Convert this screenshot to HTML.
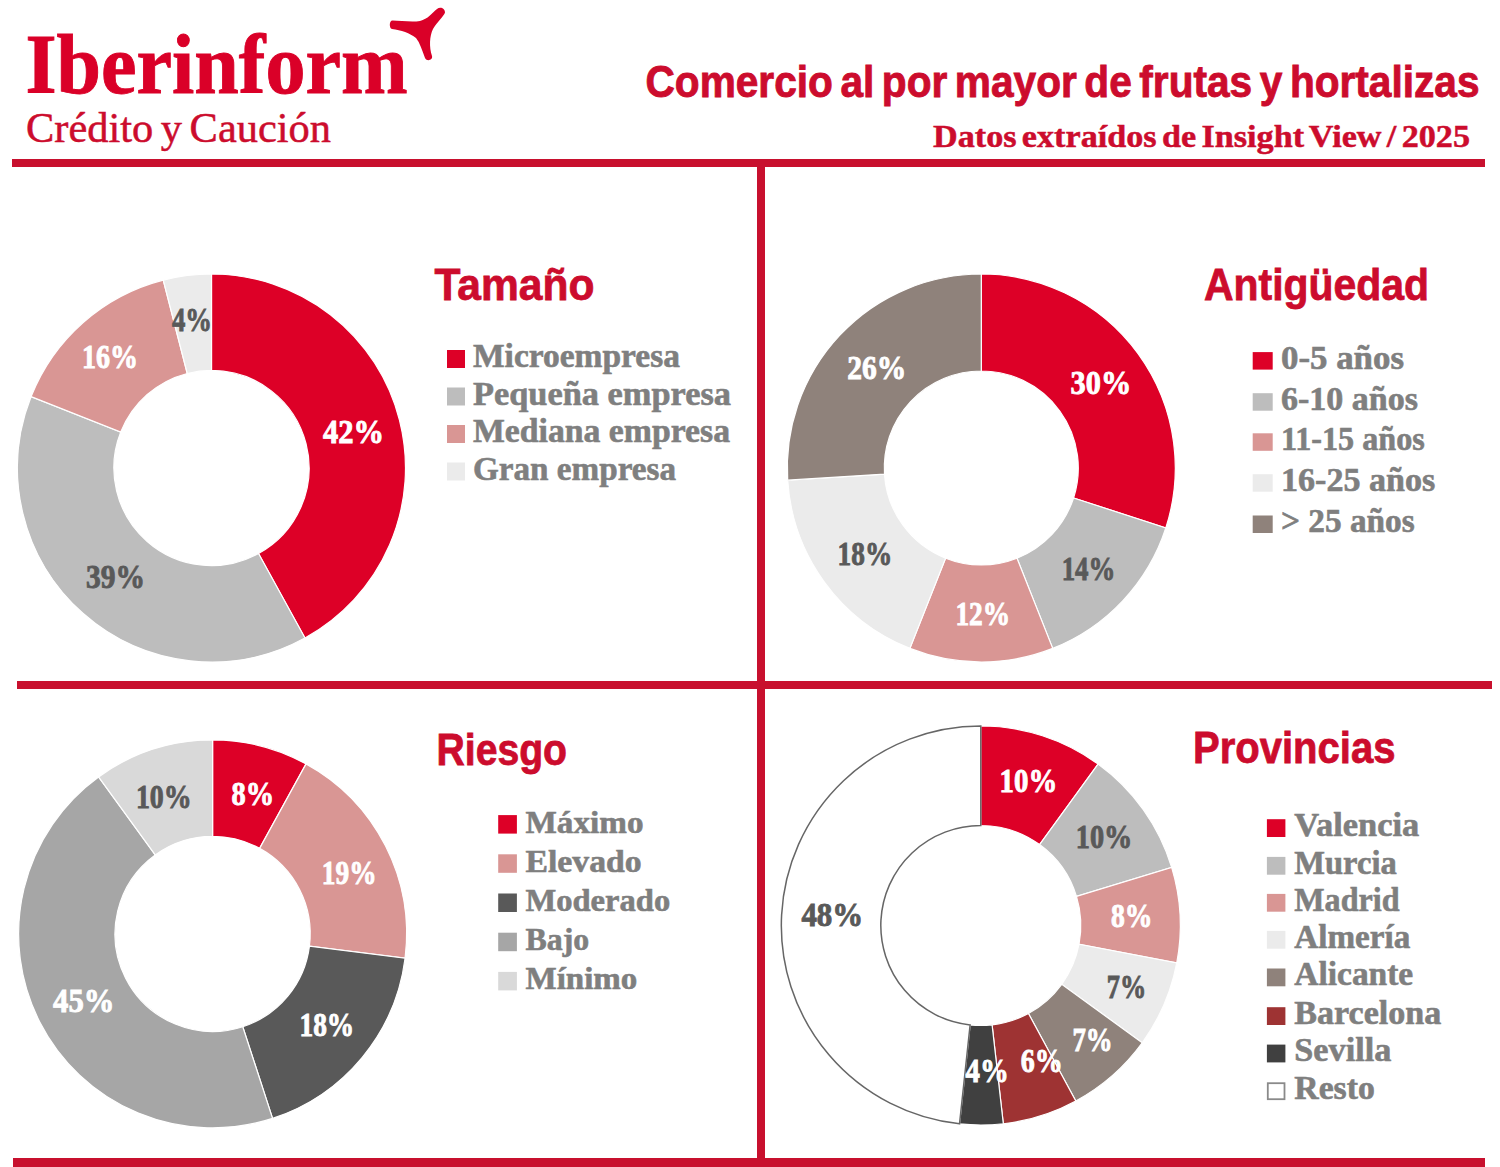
<!DOCTYPE html>
<html><head><meta charset="utf-8"><style>
html,body{margin:0;padding:0;background:#fff;}
body{width:1500px;height:1167px;overflow:hidden;font-family:"Liberation Sans",sans-serif;}
svg{display:block;}
</style></head><body>
<svg width="1500" height="1167" viewBox="0 0 1500 1167">
<rect width="1500" height="1167" fill="#fff"/>
<rect x="12" y="159" width="1473" height="8" fill="#C8102E"/>
<rect x="17" y="681" width="1475" height="8" fill="#C8102E"/>
<rect x="13" y="1158" width="1472" height="9" fill="#C8102E"/>
<rect x="757" y="159" width="8" height="1008" fill="#C8102E"/>
<text x="25.5" y="93.0" font-family="'Liberation Serif', serif" font-weight="bold" font-size="84" fill="#DA0028" textLength="382.0" lengthAdjust="spacingAndGlyphs" stroke="#DA0028" stroke-width="0.9">Iberinform</text>
<text x="26.0" y="142.3" font-family="'Liberation Serif', serif" font-weight="normal" font-size="42" fill="#CC0C2D" textLength="305.0" lengthAdjust="spacingAndGlyphs" stroke="#CC0C2D" stroke-width="0.5" word-spacing="-3">Crédito y Caución</text>
<path d="M392.5,20.6 C400,20.6 412,22.5 420,21 C428,19 432,13 437,9 C440,6.5 445,8 445,12.5 C444,16 437,22 433,29 C429.5,36 429,47 432,56 C433,60 427,62 425,58 C422,50 420,43 416,38 C410,33 401,30 392,29 C389,28.6 389,20.6 392.5,20.6 Z" fill="#DA0028"/>
<text x="645.5" y="97.0" font-family="'Liberation Sans', sans-serif" font-weight="bold" font-size="44" fill="#CC0C2D" textLength="834.0" lengthAdjust="spacingAndGlyphs" stroke="#CC0C2D" stroke-width="0.9" word-spacing="-4">Comercio al por mayor de frutas y hortalizas</text>
<text x="933.0" y="146.5" font-family="'Liberation Serif', serif" font-weight="bold" font-size="32" fill="#CC0C2D" textLength="537.0" lengthAdjust="spacingAndGlyphs" stroke="#CC0C2D" stroke-width="0.5" word-spacing="-3">Datos extraídos de Insight View / 2025</text>
<path d="M211.50,274.00 A194,194 0 0 1 304.96,638.00 L258.52,553.53 A97.6,97.6 0 0 0 211.50,370.40 Z" fill="#DD0027" stroke="#fff" stroke-width="1.2" stroke-linejoin="miter"/>
<path d="M304.96,638.00 A194,194 0 0 1 31.12,396.58 L120.75,432.07 A97.6,97.6 0 0 0 258.52,553.53 Z" fill="#BDBDBD" stroke="#fff" stroke-width="1.2" stroke-linejoin="miter"/>
<path d="M31.12,396.58 A194,194 0 0 1 163.25,280.09 L187.23,373.47 A97.6,97.6 0 0 0 120.75,432.07 Z" fill="#D99694" stroke="#fff" stroke-width="1.2" stroke-linejoin="miter"/>
<path d="M163.25,280.09 A194,194 0 0 1 211.50,274.00 L211.50,370.40 A97.6,97.6 0 0 0 187.23,373.47 Z" fill="#EBEBEB" stroke="#fff" stroke-width="1.2" stroke-linejoin="miter"/>
<text x="323.0" y="443.3" font-family="'Liberation Serif', serif" font-weight="bold" font-size="33" fill="#fff" stroke="#fff" stroke-width="0.9" textLength="61.0" lengthAdjust="spacingAndGlyphs">42%</text>
<text x="86.0" y="588.3" font-family="'Liberation Serif', serif" font-weight="bold" font-size="33" fill="#595959" stroke="#595959" stroke-width="0.9" textLength="59.0" lengthAdjust="spacingAndGlyphs">39%</text>
<text x="82.0" y="368.3" font-family="'Liberation Serif', serif" font-weight="bold" font-size="33" fill="#fff" stroke="#fff" stroke-width="0.9" textLength="56.0" lengthAdjust="spacingAndGlyphs">16%</text>
<text x="172.0" y="330.8" font-family="'Liberation Serif', serif" font-weight="bold" font-size="33" fill="#595959" stroke="#595959" stroke-width="0.9" textLength="40.0" lengthAdjust="spacingAndGlyphs">4%</text>
<text x="434.5" y="300.0" font-family="'Liberation Sans', sans-serif" font-weight="bold" font-size="45" fill="#CC0C2D" textLength="160.0" lengthAdjust="spacingAndGlyphs" stroke="#CC0C2D" stroke-width="0.8">Tamaño</text>
<rect x="447.0" y="350.0" width="18.0" height="18.0" fill="#DD0027"/>
<text x="473.0" y="367.0" font-family="'Liberation Serif', serif" font-weight="bold" font-size="33" fill="#7F7F7F" textLength="207.0" lengthAdjust="spacingAndGlyphs" stroke="#7F7F7F" stroke-width="0.6">Microempresa</text>
<rect x="447.0" y="387.5" width="18.0" height="18.0" fill="#BDBDBD"/>
<text x="473.0" y="404.5" font-family="'Liberation Serif', serif" font-weight="bold" font-size="33" fill="#7F7F7F" textLength="258.0" lengthAdjust="spacingAndGlyphs" stroke="#7F7F7F" stroke-width="0.6">Pequeña empresa</text>
<rect x="447.0" y="425.0" width="18.0" height="18.0" fill="#D99694"/>
<text x="473.0" y="442.0" font-family="'Liberation Serif', serif" font-weight="bold" font-size="33" fill="#7F7F7F" textLength="257.0" lengthAdjust="spacingAndGlyphs" stroke="#7F7F7F" stroke-width="0.6">Mediana empresa</text>
<rect x="447.0" y="462.5" width="18.0" height="18.0" fill="#EBEBEB"/>
<text x="473.0" y="479.5" font-family="'Liberation Serif', serif" font-weight="bold" font-size="33" fill="#7F7F7F" textLength="203.0" lengthAdjust="spacingAndGlyphs" stroke="#7F7F7F" stroke-width="0.6">Gran empresa</text>
<path d="M981.30,274.00 A194,194 0 0 1 1165.80,527.95 L1073.55,497.97 A97,97 0 0 0 981.30,371.00 Z" fill="#DD0027" stroke="#fff" stroke-width="1.2" stroke-linejoin="miter"/>
<path d="M1165.80,527.95 A194,194 0 0 1 1052.72,648.38 L1017.01,558.19 A97,97 0 0 0 1073.55,497.97 Z" fill="#BDBDBD" stroke="#fff" stroke-width="1.2" stroke-linejoin="miter"/>
<path d="M1052.72,648.38 A194,194 0 0 1 909.88,648.38 L945.59,558.19 A97,97 0 0 0 1017.01,558.19 Z" fill="#D99694" stroke="#fff" stroke-width="1.2" stroke-linejoin="miter"/>
<path d="M909.88,648.38 A194,194 0 0 1 787.68,480.18 L884.49,474.09 A97,97 0 0 0 945.59,558.19 Z" fill="#EBEBEB" stroke="#fff" stroke-width="1.2" stroke-linejoin="miter"/>
<path d="M787.68,480.18 A194,194 0 0 1 981.30,274.00 L981.30,371.00 A97,97 0 0 0 884.49,474.09 Z" fill="#8F827B" stroke="#fff" stroke-width="1.2" stroke-linejoin="miter"/>
<text x="1070.6" y="393.7" font-family="'Liberation Serif', serif" font-weight="bold" font-size="33" fill="#fff" stroke="#fff" stroke-width="0.9" textLength="60.6" lengthAdjust="spacingAndGlyphs">30%</text>
<text x="847.3" y="379.3" font-family="'Liberation Serif', serif" font-weight="bold" font-size="33" fill="#fff" stroke="#fff" stroke-width="0.9" textLength="59.0" lengthAdjust="spacingAndGlyphs">26%</text>
<text x="837.6" y="564.6" font-family="'Liberation Serif', serif" font-weight="bold" font-size="33" fill="#595959" stroke="#595959" stroke-width="0.9" textLength="54.6" lengthAdjust="spacingAndGlyphs">18%</text>
<text x="1061.7" y="579.5" font-family="'Liberation Serif', serif" font-weight="bold" font-size="33" fill="#595959" stroke="#595959" stroke-width="0.9" textLength="53.7" lengthAdjust="spacingAndGlyphs">14%</text>
<text x="955.4" y="624.9" font-family="'Liberation Serif', serif" font-weight="bold" font-size="33" fill="#fff" stroke="#fff" stroke-width="0.9" textLength="54.7" lengthAdjust="spacingAndGlyphs">12%</text>
<text x="1204.0" y="299.5" font-family="'Liberation Sans', sans-serif" font-weight="bold" font-size="45" fill="#CC0C2D" textLength="225.0" lengthAdjust="spacingAndGlyphs" stroke="#CC0C2D" stroke-width="0.8">Antigüedad</text>
<rect x="1252.7" y="352.1" width="20.0" height="17.5" fill="#DD0027"/>
<text x="1281.0" y="368.6" font-family="'Liberation Serif', serif" font-weight="bold" font-size="33" fill="#7F7F7F" textLength="123.0" lengthAdjust="spacingAndGlyphs" stroke="#7F7F7F" stroke-width="0.6">0-5 años</text>
<rect x="1252.7" y="393.2" width="20.0" height="17.5" fill="#BDBDBD"/>
<text x="1281.0" y="409.7" font-family="'Liberation Serif', serif" font-weight="bold" font-size="33" fill="#7F7F7F" textLength="137.0" lengthAdjust="spacingAndGlyphs" stroke="#7F7F7F" stroke-width="0.6">6-10 años</text>
<rect x="1252.7" y="433.3" width="20.0" height="17.5" fill="#D99694"/>
<text x="1281.0" y="449.8" font-family="'Liberation Serif', serif" font-weight="bold" font-size="33" fill="#7F7F7F" textLength="143.7" lengthAdjust="spacingAndGlyphs" stroke="#7F7F7F" stroke-width="0.6">11-15 años</text>
<rect x="1252.7" y="474.2" width="20.0" height="17.5" fill="#EBEBEB"/>
<text x="1281.0" y="490.7" font-family="'Liberation Serif', serif" font-weight="bold" font-size="33" fill="#7F7F7F" textLength="154.3" lengthAdjust="spacingAndGlyphs" stroke="#7F7F7F" stroke-width="0.6">16-25 años</text>
<rect x="1252.7" y="515.5" width="20.0" height="17.5" fill="#8F827B"/>
<text x="1281.0" y="532.0" font-family="'Liberation Serif', serif" font-weight="bold" font-size="33" fill="#7F7F7F" textLength="133.7" lengthAdjust="spacingAndGlyphs" stroke="#7F7F7F" stroke-width="0.6">&gt; 25 años</text>
<path d="M212.60,739.90 A194,194 0 0 1 306.06,763.90 L259.62,848.37 A97.6,97.6 0 0 0 212.60,836.30 Z" fill="#DD0027" stroke="#fff" stroke-width="1.2" stroke-linejoin="miter"/>
<path d="M306.06,763.90 A194,194 0 0 1 405.07,958.21 L309.43,946.13 A97.6,97.6 0 0 0 259.62,848.37 Z" fill="#D99694" stroke="#fff" stroke-width="1.2" stroke-linejoin="miter"/>
<path d="M405.07,958.21 A194,194 0 0 1 272.55,1118.40 L242.76,1026.72 A97.6,97.6 0 0 0 309.43,946.13 Z" fill="#595959" stroke="#fff" stroke-width="1.2" stroke-linejoin="miter"/>
<path d="M272.55,1118.40 A194,194 0 0 1 98.57,776.95 L155.23,854.94 A97.6,97.6 0 0 0 242.76,1026.72 Z" fill="#A6A6A6" stroke="#fff" stroke-width="1.2" stroke-linejoin="miter"/>
<path d="M98.57,776.95 A194,194 0 0 1 212.60,739.90 L212.60,836.30 A97.6,97.6 0 0 0 155.23,854.94 Z" fill="#D9D9D9" stroke="#fff" stroke-width="1.2" stroke-linejoin="miter"/>
<text x="231.6" y="804.9" font-family="'Liberation Serif', serif" font-weight="bold" font-size="33" fill="#fff" stroke="#fff" stroke-width="0.9" textLength="42.6" lengthAdjust="spacingAndGlyphs">8%</text>
<text x="135.9" y="808.3" font-family="'Liberation Serif', serif" font-weight="bold" font-size="33" fill="#595959" stroke="#595959" stroke-width="0.9" textLength="55.8" lengthAdjust="spacingAndGlyphs">10%</text>
<text x="321.8" y="883.6" font-family="'Liberation Serif', serif" font-weight="bold" font-size="33" fill="#fff" stroke="#fff" stroke-width="0.9" textLength="54.7" lengthAdjust="spacingAndGlyphs">19%</text>
<text x="299.5" y="1035.8" font-family="'Liberation Serif', serif" font-weight="bold" font-size="33" fill="#fff" stroke="#fff" stroke-width="0.9" textLength="54.7" lengthAdjust="spacingAndGlyphs">18%</text>
<text x="53.1" y="1011.6" font-family="'Liberation Serif', serif" font-weight="bold" font-size="33" fill="#fff" stroke="#fff" stroke-width="0.9" textLength="61.3" lengthAdjust="spacingAndGlyphs">45%</text>
<text x="436.5" y="764.7" font-family="'Liberation Sans', sans-serif" font-weight="bold" font-size="45" fill="#CC0C2D" textLength="130.5" lengthAdjust="spacingAndGlyphs" stroke="#CC0C2D" stroke-width="0.8">Riesgo</text>
<rect x="498.2" y="815.1" width="18.7" height="18.5" fill="#DD0027"/>
<text x="525.5" y="832.6" font-family="'Liberation Serif', serif" font-weight="bold" font-size="32" fill="#7F7F7F" textLength="118.0" lengthAdjust="spacingAndGlyphs" stroke="#7F7F7F" stroke-width="0.6">Máximo</text>
<rect x="498.2" y="854.3" width="18.7" height="18.5" fill="#D99694"/>
<text x="525.5" y="871.8" font-family="'Liberation Serif', serif" font-weight="bold" font-size="32" fill="#7F7F7F" textLength="116.2" lengthAdjust="spacingAndGlyphs" stroke="#7F7F7F" stroke-width="0.6">Elevado</text>
<rect x="498.2" y="893.5" width="18.7" height="18.5" fill="#595959"/>
<text x="525.5" y="911.0" font-family="'Liberation Serif', serif" font-weight="bold" font-size="32" fill="#7F7F7F" textLength="144.7" lengthAdjust="spacingAndGlyphs" stroke="#7F7F7F" stroke-width="0.6">Moderado</text>
<rect x="498.2" y="932.7" width="18.7" height="18.5" fill="#A6A6A6"/>
<text x="525.5" y="950.2" font-family="'Liberation Serif', serif" font-weight="bold" font-size="32" fill="#7F7F7F" textLength="63.7" lengthAdjust="spacingAndGlyphs" stroke="#7F7F7F" stroke-width="0.6">Bajo</text>
<rect x="498.2" y="971.9" width="18.7" height="18.5" fill="#D9D9D9"/>
<text x="525.5" y="989.4" font-family="'Liberation Serif', serif" font-weight="bold" font-size="32" fill="#7F7F7F" textLength="111.8" lengthAdjust="spacingAndGlyphs" stroke="#7F7F7F" stroke-width="0.6">Mínimo</text>
<path d="M980.80,726.00 A199.5,199.5 0 0 1 1098.06,764.10 L1039.58,844.60 A100,100 0 0 0 980.80,825.50 Z" fill="#DD0027" stroke="#fff" stroke-width="1.2" stroke-linejoin="miter"/>
<path d="M1098.06,764.10 A199.5,199.5 0 0 1 1171.66,867.44 L1076.47,896.40 A100,100 0 0 0 1039.58,844.60 Z" fill="#BDBDBD" stroke="#fff" stroke-width="1.2" stroke-linejoin="miter"/>
<path d="M1171.66,867.44 A199.5,199.5 0 0 1 1176.77,962.88 L1079.03,944.24 A100,100 0 0 0 1076.47,896.40 Z" fill="#D99694" stroke="#fff" stroke-width="1.2" stroke-linejoin="miter"/>
<path d="M1176.77,962.88 A199.5,199.5 0 0 1 1142.20,1042.76 L1061.70,984.28 A100,100 0 0 0 1079.03,944.24 Z" fill="#EBEBEB" stroke="#fff" stroke-width="1.2" stroke-linejoin="miter"/>
<path d="M1142.20,1042.76 A199.5,199.5 0 0 1 1075.81,1100.92 L1028.42,1013.43 A100,100 0 0 0 1061.70,984.28 Z" fill="#8F827B" stroke="#fff" stroke-width="1.2" stroke-linejoin="miter"/>
<path d="M1075.81,1100.92 A199.5,199.5 0 0 1 1003.31,1123.73 L992.09,1024.86 A100,100 0 0 0 1028.42,1013.43 Z" fill="#9E3333" stroke="#fff" stroke-width="1.2" stroke-linejoin="miter"/>
<path d="M1003.31,1123.73 A199.5,199.5 0 0 1 959.53,1123.86 L970.14,1024.93 A100,100 0 0 0 992.09,1024.86 Z" fill="#404040" stroke="#fff" stroke-width="1.2" stroke-linejoin="miter"/>
<path d="M959.53,1123.86 A199.5,199.5 0 0 1 980.80,726.00 L980.80,825.50 A100,100 0 0 0 970.14,1024.93 Z" fill="#FFFFFF" stroke="#666" stroke-width="1.5" stroke-linejoin="miter"/>
<text x="999.6" y="792.3" font-family="'Liberation Serif', serif" font-weight="bold" font-size="33" fill="#fff" stroke="#fff" stroke-width="0.9" textLength="57.6" lengthAdjust="spacingAndGlyphs">10%</text>
<text x="1075.8" y="847.8" font-family="'Liberation Serif', serif" font-weight="bold" font-size="33" fill="#595959" stroke="#595959" stroke-width="0.9" textLength="56.5" lengthAdjust="spacingAndGlyphs">10%</text>
<text x="1111.0" y="926.5" font-family="'Liberation Serif', serif" font-weight="bold" font-size="33" fill="#fff" stroke="#fff" stroke-width="0.9" textLength="41.5" lengthAdjust="spacingAndGlyphs">8%</text>
<text x="1106.8" y="998.3" font-family="'Liberation Serif', serif" font-weight="bold" font-size="33" fill="#595959" stroke="#595959" stroke-width="0.9" textLength="39.4" lengthAdjust="spacingAndGlyphs">7%</text>
<text x="1072.4" y="1050.8" font-family="'Liberation Serif', serif" font-weight="bold" font-size="33" fill="#fff" stroke="#fff" stroke-width="0.9" textLength="40.2" lengthAdjust="spacingAndGlyphs">7%</text>
<text x="1020.8" y="1071.5" font-family="'Liberation Serif', serif" font-weight="bold" font-size="33" fill="#fff" stroke="#fff" stroke-width="0.9" textLength="42.0" lengthAdjust="spacingAndGlyphs">6%</text>
<text x="965.6" y="1082.3" font-family="'Liberation Serif', serif" font-weight="bold" font-size="33" fill="#fff" stroke="#fff" stroke-width="0.9" textLength="43.2" lengthAdjust="spacingAndGlyphs">4%</text>
<text x="801.4" y="926.2" font-family="'Liberation Serif', serif" font-weight="bold" font-size="33" fill="#595959" stroke="#595959" stroke-width="0.9" textLength="61.8" lengthAdjust="spacingAndGlyphs">48%</text>
<text x="1193.0" y="763.0" font-family="'Liberation Sans', sans-serif" font-weight="bold" font-size="45" fill="#CC0C2D" textLength="202.5" lengthAdjust="spacingAndGlyphs" stroke="#CC0C2D" stroke-width="0.8">Provincias</text>
<rect x="1266.9" y="819.2" width="18.5" height="17.8" fill="#DD0027"/>
<text x="1294.3" y="836.0" font-family="'Liberation Serif', serif" font-weight="bold" font-size="33" fill="#7F7F7F" textLength="125.0" lengthAdjust="spacingAndGlyphs" stroke="#7F7F7F" stroke-width="0.6">Valencia</text>
<rect x="1266.9" y="856.9" width="18.5" height="17.8" fill="#BDBDBD"/>
<text x="1294.3" y="873.7" font-family="'Liberation Serif', serif" font-weight="bold" font-size="33" fill="#7F7F7F" textLength="102.4" lengthAdjust="spacingAndGlyphs" stroke="#7F7F7F" stroke-width="0.6">Murcia</text>
<rect x="1266.9" y="893.9" width="18.5" height="17.8" fill="#D99694"/>
<text x="1294.3" y="910.7" font-family="'Liberation Serif', serif" font-weight="bold" font-size="33" fill="#7F7F7F" textLength="105.2" lengthAdjust="spacingAndGlyphs" stroke="#7F7F7F" stroke-width="0.6">Madrid</text>
<rect x="1266.9" y="930.9" width="18.5" height="17.8" fill="#EBEBEB"/>
<text x="1294.3" y="947.7" font-family="'Liberation Serif', serif" font-weight="bold" font-size="33" fill="#7F7F7F" textLength="116.1" lengthAdjust="spacingAndGlyphs" stroke="#7F7F7F" stroke-width="0.6">Almería</text>
<rect x="1266.9" y="968.5" width="18.5" height="17.8" fill="#8F827B"/>
<text x="1294.3" y="985.3" font-family="'Liberation Serif', serif" font-weight="bold" font-size="33" fill="#7F7F7F" textLength="118.9" lengthAdjust="spacingAndGlyphs" stroke="#7F7F7F" stroke-width="0.6">Alicante</text>
<rect x="1266.9" y="1007.2" width="18.5" height="17.8" fill="#9E3333"/>
<text x="1294.3" y="1024.0" font-family="'Liberation Serif', serif" font-weight="bold" font-size="33" fill="#7F7F7F" textLength="147.0" lengthAdjust="spacingAndGlyphs" stroke="#7F7F7F" stroke-width="0.6">Barcelona</text>
<rect x="1266.9" y="1044.6" width="18.5" height="17.8" fill="#404040"/>
<text x="1294.3" y="1061.4" font-family="'Liberation Serif', serif" font-weight="bold" font-size="33" fill="#7F7F7F" textLength="97.0" lengthAdjust="spacingAndGlyphs" stroke="#7F7F7F" stroke-width="0.6">Sevilla</text>
<rect x="1267.8" y="1083.2" width="16.7" height="16.0" fill="#fff" stroke="#8a8a8a" stroke-width="1.8"/>
<text x="1294.3" y="1099.1" font-family="'Liberation Serif', serif" font-weight="bold" font-size="33" fill="#7F7F7F" textLength="80.5" lengthAdjust="spacingAndGlyphs" stroke="#7F7F7F" stroke-width="0.6">Resto</text>
</svg>
</body></html>
